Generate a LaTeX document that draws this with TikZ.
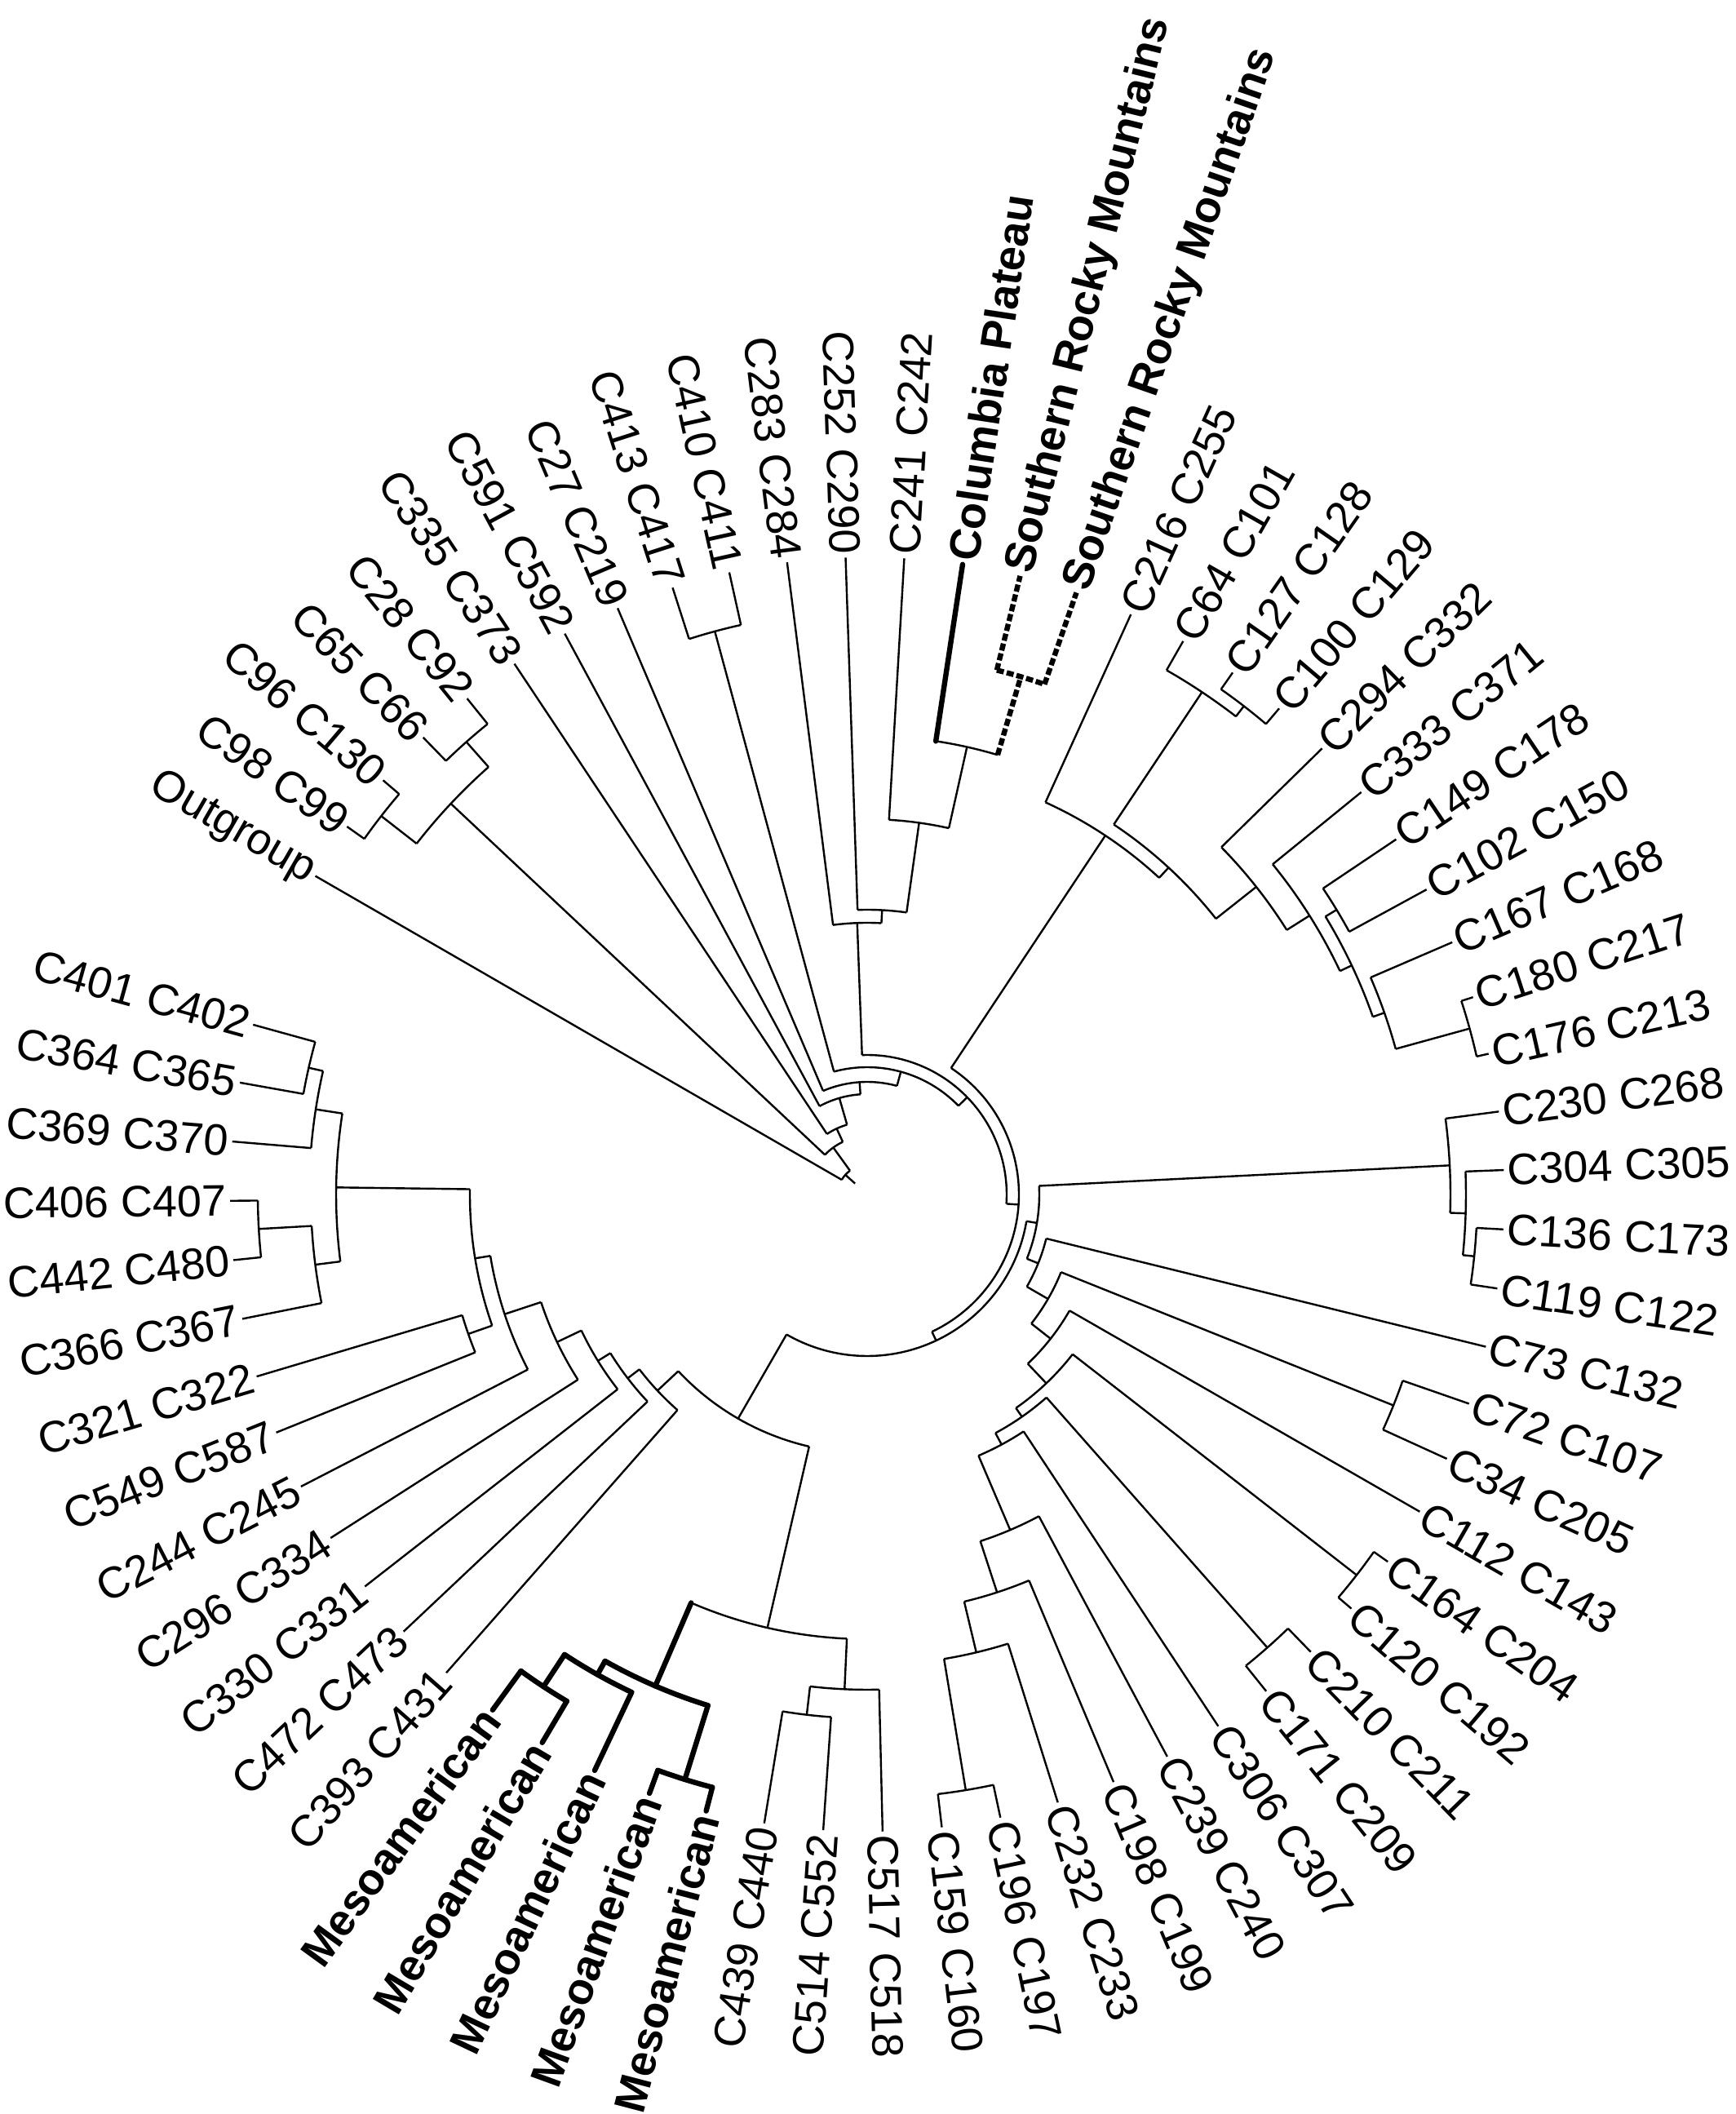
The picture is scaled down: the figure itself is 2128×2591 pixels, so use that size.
\documentclass[tikz,border=0pt]{standalone}
\usepackage{fontspec}
\setmainfont{Liberation Sans}
\def\tipr{781}        % radius of all tips
\def\midang{2.2}      % angle of tip 29
\def\stepup{5.279}    % angle between two tips, tips 1 to 29
\def\stepdown{5.342}  % angle between two tips, tips 29 to 66

\newcommand\angof[1]{\pgfmathsetmacro\th{(#1<=29) ? \midang+(29-#1)*\stepup : \midang-(#1-29)*\stepdown}}

% tip: name, index, line style, label
\newcommand\leaf[4]{%
  \expandafter\xdef\csname ny@#1\endcsname{#2}%
  \expandafter\xdef\csname ns@#1\endcsname{#3}%
  \angof{#2}%
  \pgfmathtruncatemacro\lft{(\th>90 || \th<-90) ? 1 : 0}%
  \ifnum\lft=1
    \pgfmathsetmacro\rot{\th+180}\def\anc{east}%
  \else
    \let\rot\th\def\anc{west}%
  \fi
  \edef\cmd{\noexpand\coordinate (#1) at (\th:\tipr);
    \noexpand\node[tiplab,#3lab,rotate=\rot,anchor=\anc] (#1-lab) at (#1) {#4};}%
  \cmd
}

% inner node: name, child a, child b, radius, line style
\newcommand\clade[5]{%
  \edef\ya{\csname ny@#2\endcsname}%
  \edef\yb{\csname ny@#3\endcsname}%
  \edef\sa{\csname ns@#2\endcsname}%
  \edef\sb{\csname ns@#3\endcsname}%
  \pgfmathsetmacro\yn{(\ya+\yb)/2}%
  \expandafter\xdef\csname ny@#1\endcsname{\yn}%
  \expandafter\xdef\csname ns@#1\endcsname{#5}%
  \angof{\ya}\let\tha\th
  \angof{\yb}\let\thb\th
  \angof{\yn}\let\thn\th
  \pgfmathsetmacro\rad{#4/4}%
  \edef\cmd{\noexpand\coordinate (#1) at (\thn:#4);
    \noexpand\coordinate (#2-in) at (\tha:#4);
    \noexpand\coordinate (#3-in) at (\thb:#4);
    \noexpand\draw[branch,\sa] (#2-in) -- (#2);
    \noexpand\draw[branch,\sb] (#3-in) -- (#3);
    \noexpand\draw[branch,#5] (#2-in) arc[start angle=\tha, end angle=\thb, radius=\rad pt];}%
  \cmd
}

\begin{document}
\begin{tikzpicture}[x=0.25pt, y=0.25pt,
  branch/.style={line width=0.6pt},
  plainline/.style={},
  boldline/.style={line width=1.6pt, line cap=round},
  dashline/.style={line width=1.6pt, dash pattern=on 2.2pt off 0.9pt},
  tiplab/.style={font=\fontsize{13.5}{16}\selectfont, inner sep=1pt},
  plainlinelab/.style={},
  boldlinelab/.style={font=\fontsize{13.5}{16}\selectfont\bfseries},
  dashlinelab/.style={font=\fontsize{13.5}{16}\selectfont\bfseries}]
\useasboundingbox (-1063,-1127) rectangle (1065,1464);
% tips, clockwise from the outgroup
\foreach \nm/\ix/\st/\txt in {
  og/1/plainline/Outgroup, c98/2/plainline/C98 C99, c96/3/plainline/C96 C130,
  c65/4/plainline/C65 C66, c28/5/plainline/C28 C92, c335/6/plainline/C335 C373,
  c591/7/plainline/C591 C592, c27/8/plainline/C27 C219, c413/9/plainline/C413 C417,
  c410/10/plainline/C410 C411, c283/11/plainline/C283 C284, c252/12/plainline/C252 C290,
  c241/13/plainline/C241 C242, colp/14/boldline/Columbia Plateau,
  srma/15/dashline/Southern Rocky Mountains, srmb/16/dashline/Southern Rocky Mountains,
  c216/17/plainline/C216 C255, c64/18/plainline/C64 C101, c127/19/plainline/C127 C128,
  c100/20/plainline/C100 C129, c294/21/plainline/C294 C332, c333/22/plainline/C333 C371,
  c149/23/plainline/C149 C178, c102/24/plainline/C102 C150, c167/25/plainline/C167 C168,
  c180/26/plainline/C180 C217, c176/27/plainline/C176 C213, c230/28/plainline/C230 C268,
  c304/29/plainline/C304 C305, c136/30/plainline/C136 C173, c119/31/plainline/C119 C122,
  c73/32/plainline/C73 C132, c72/33/plainline/C72 C107, c34/34/plainline/C34 C205,
  c112/35/plainline/C112 C143, c164/36/plainline/C164 C204, c120/37/plainline/C120 C192,
  c210/38/plainline/C210 C211, c171/39/plainline/C171 C209, c306/40/plainline/C306 C307,
  c239/41/plainline/C239 C240, c198/42/plainline/C198 C199, c232/43/plainline/C232 C233,
  c196/44/plainline/C196 C197, c159/45/plainline/C159 C160, c517/46/plainline/C517 C518,
  c514/47/plainline/C514 C552, c439/48/plainline/C439 C440,
  meso1/49/boldline/Mesoamerican, meso2/50/boldline/Mesoamerican,
  meso3/51/boldline/Mesoamerican, meso4/52/boldline/Mesoamerican,
  meso5/53/boldline/Mesoamerican, c393/54/plainline/C393 C431,
  c472/55/plainline/C472 C473, c330/56/plainline/C330 C331, c296/57/plainline/C296 C334,
  c244/58/plainline/C244 C245, c549/59/plainline/C549 C587, c321/60/plainline/C321 C322,
  c366/61/plainline/C366 C367, c442/62/plainline/C442 C480, c406/63/plainline/C406 C407,
  c369/64/plainline/C369 C370, c364/65/plainline/C364 C365, c401/66/plainline/C401 C402
} {\leaf{\nm}{\ix}{\st}{\txt}}
% inner nodes, children first
\foreach \nm/\ca/\cb/\rr/\st in {
  c9896/c98/c96/755/plainline, c6528/c65/c28/741/plainline, cA/c9896/c6528/700/plainline,
  c413n/c413/c410/715/plainline,
  srm/srma/srmb/662/dashline, T4/colp/srm/562/plainline, T3/c241/T4/460/plainline,
  T2/c252/T3/349/plainline, T/c283/T2/333/plainline,
  c127n/c127/c100/756/plainline, P64/c64/c127n/740/plainline,
  P149/c149/c102/673/plainline, P180/c180/c176/766/plainline, P167/c167/P180/672/plainline,
  W3/P149/P167/657/plainline, W2/c333/W3/641/plainline, W1/c294/W2/608/plainline,
  Y1/P64/W1/545/plainline, X1/c216/Y1/528/plainline,
  K3/c136/c119/748/plainline, K2/c304/K3/734/plainline, K1/c230/K2/715/plainline,
  c72n/c72/c34/695/plainline, c164n/c164/c120/760/plainline, c210n/c210/c171/741/plainline,
  J11/c196/c159/740/plainline, J10/c232/J11/577/plainline, J9/c198/J10/513/plainline,
  J8/c239/J9/447/plainline, J7/c306/J8/348/plainline, J6/c210n/J7/332/plainline,
  J5/c164n/J6/319/plainline, J4/c112/J5/286/plainline, J3/c72n/J4/256/plainline,
  J2/c73/J3/226/plainline, J1/K1/J2/211/plainline,
  B3/c514/c439/642/plainline, B2/c517/B3/607/plainline,
  M45/meso1/meso2/751/boldline, Mc/meso4/meso5/722/boldline, Mb/meso3/Mc/675/boldline,
  M0/M45/Mb/656/boldline, B1/B2/M0/545/plainline,
  L1/c364/c401/702/plainline, L2/c369/L1/684/plainline, L5/c442/c406/747/plainline,
  L4/c366/L5/682/plainline, L3/L4/L2/651/plainline, c549n/c549/c321/518/plainline,
  L6/c549n/L3/487/plainline, LL5/c244/L6/468/plainline, LL4/c296/LL5/421/plainline,
  LL3/c330/LL4/388/plainline, LL2/c472/LL3/370/plainline, LL1/c393/LL2/352/plainline,
  B0/B1/LL1/317/plainline,
  N8/J1/B0/198/plainline, N7/X1/N8/186/plainline, N6/T/N7/171/plainline,
  N5/c413n/N6/156/plainline, N4/c27/N5/138/plainline, N3/c591/N4/123/plainline,
  N2/c335/N3/89/plainline, N1/cA/N2/71/plainline, R0/og/N1/36/plainline
} {\clade{\nm}{\ca}{\cb}{\rr}{\st}}
% root edge
\angof{\csname ny@R0\endcsname}
\coordinate (rootb) at (\th:20);
\draw[branch] (rootb) -- (R0);
\end{tikzpicture}
\end{document}
